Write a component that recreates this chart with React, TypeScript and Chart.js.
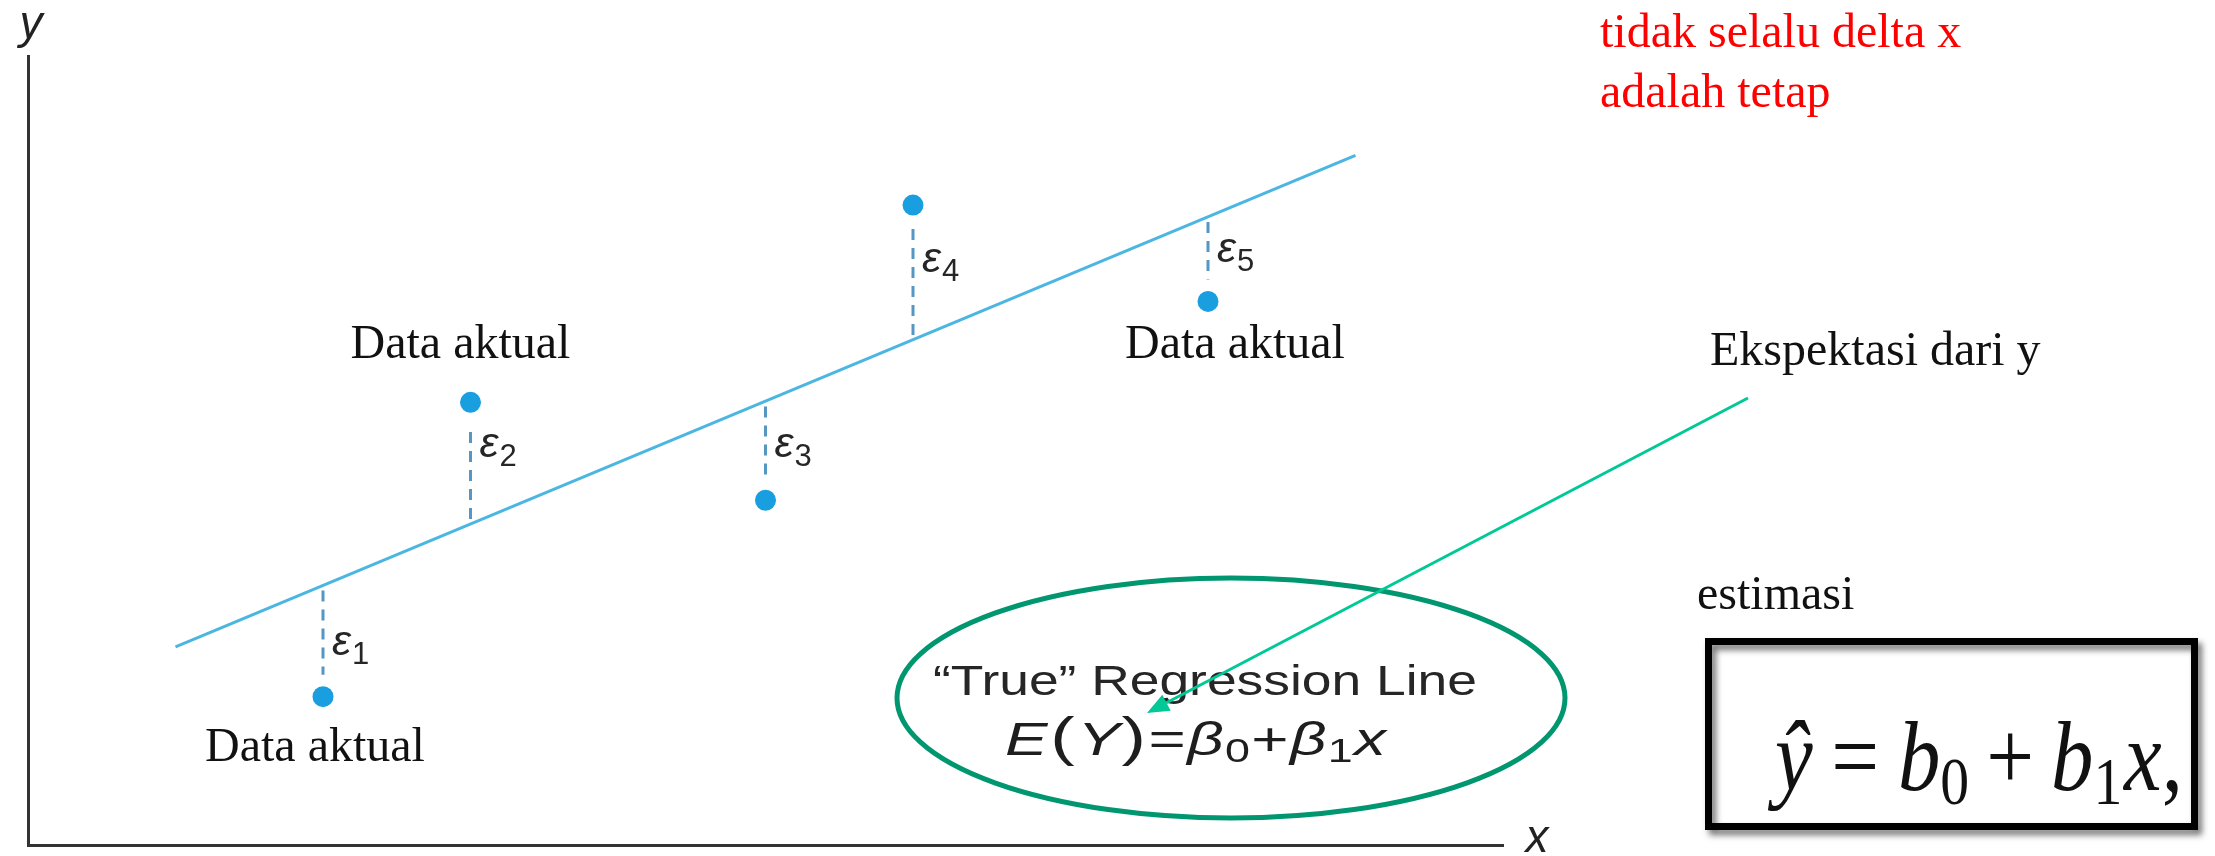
import { useEffect, useRef } from "react";
import { Chart, registerables } from "chart.js";

Chart.register(...registerables);

// Observations (x, actual y) and the expected value E(Y) on the true line at each x
const xValues = [20, 30, 50, 60, 80];
const actualY = [18.8, 56.1, 43.7, 81.1, 68.9];
const fittedY = [32.9, 40.7, 56.2, 64.0, 79.6];
const residualNames = ["1", "2", "3", "4", "5"];

// End points of the "true" regression line
const lineX = [10, 90];
const lineY = [25.1, 87.4];

// Text content
const noteLines = ["tidak selalu delta x", "adalah tetap"];
const actualLabel = "Data aktual";
const expectationLabel = "Ekspektasi dari y";
const estimateLabel = "estimasi";
const trueLineTitle = "\u201CTrue\u201D Regression Line";

// Which observations carry a "Data aktual" caption, and where relative to the point
const actualCaptions = [
  { index: 0, dx: -8, dy: 64 },
  { index: 1, dx: -10, dy: -44 },
  { index: 4, dx: 27, dy: 57 },
];
// Vertical shift of each epsilon label from the middle of its residual
const epsShift = [4.5, -15, -3, -9.5, -6];

const SERIF = "'Liberation Serif', 'Times New Roman', serif";
const SANS = "'Liberation Sans', Arial, Helvetica, sans-serif";

type Piece = { t: string; f: string; dy?: number; gap?: number };

// Lays out a run of glyph pieces and stretches it horizontally to span [left, right]
function drawRun(
  ctx: CanvasRenderingContext2D,
  pieces: Piece[],
  left: number,
  right: number,
  baseline: number,
  color: string
) {
  let total = 0;
  pieces.forEach((p, i) => {
    ctx.font = p.f;
    total += ctx.measureText(p.t).width + (i < pieces.length - 1 ? p.gap || 0 : 0);
  });
  const sx = (right - left) / total;
  ctx.save();
  ctx.translate(left, baseline);
  ctx.scale(sx, 1);
  ctx.fillStyle = color;
  ctx.textAlign = "left";
  ctx.textBaseline = "alphabetic";
  let x = 0;
  pieces.forEach((p) => {
    ctx.font = p.f;
    ctx.fillText(p.t, x, p.dy || 0);
    x += ctx.measureText(p.t).width + (p.gap || 0);
  });
  ctx.restore();
}

const residualPlugin = {
  id: "residuals",
  afterDatasetsDraw(chart: any) {
    const { ctx } = chart;
    const xs = chart.scales.x;
    const ys = chart.scales.y;
    ctx.save();
    ctx.strokeStyle = "#5597c2";
    ctx.lineWidth = 3;
    ctx.setLineDash([11, 8]);
    xValues.forEach((xv, i) => {
      const px = xs.getPixelForValue(xv);
      const pLine = ys.getPixelForValue(fittedY[i]);
      const pObs = ys.getPixelForValue(actualY[i]);
      const dir = pObs > pLine ? 1 : -1;
      ctx.beginPath();
      ctx.moveTo(px, pLine + dir * 5);
      ctx.lineTo(px, pObs - dir * 22);
      ctx.stroke();
    });
    ctx.restore();
  },
};

const annotationPlugin = {
  id: "annotations",
  afterDraw(chart: any) {
    const { ctx } = chart;
    const xs = chart.scales.x;
    const ys = chart.scales.y;

    // axis names
    ctx.save();
    ctx.fillStyle = "#222";
    ctx.textAlign = "center";
    ctx.font = `italic 46px ${SANS}`;
    ctx.fillText("y", 31, 38);
    ctx.fillText("x", 1537, 852);
    ctx.restore();

    // epsilon labels beside each residual
    xValues.forEach((xv, i) => {
      const px = xs.getPixelForValue(xv);
      const mid = (ys.getPixelForValue(fittedY[i]) + ys.getPixelForValue(actualY[i])) / 2;
      const base = mid + epsShift[i] + 9;
      ctx.save();
      ctx.fillStyle = "#262626";
      ctx.textAlign = "left";
      ctx.font = `italic 43px ${SANS}`;
      ctx.fillText("\u03B5", px + 9, base);
      const w = ctx.measureText("\u03B5").width;
      ctx.font = `31px ${SANS}`;
      ctx.fillText(residualNames[i], px + 9 + w + 1, base + 9);
      ctx.restore();
    });

    // serif captions and notes
    ctx.save();
    ctx.fillStyle = "#111";
    ctx.textAlign = "center";
    ctx.font = `48px ${SERIF}`;
    actualCaptions.forEach((c) => {
      const px = xs.getPixelForValue(xValues[c.index]);
      const py = ys.getPixelForValue(actualY[c.index]);
      ctx.fillText(actualLabel, px + c.dx, py + c.dy);
    });
    ctx.textAlign = "left";
    ctx.fillText(expectationLabel, 1710, 365);
    ctx.fillText(estimateLabel, 1697, 609);
    ctx.fillStyle = "#ff0000";
    noteLines.forEach((t, i) => ctx.fillText(t, 1600, 47 + i * 60));
    ctx.restore();

    // ellipse around the model equation
    ctx.save();
    ctx.strokeStyle = "#009670";
    ctx.lineWidth = 5;
    ctx.beginPath();
    ctx.ellipse(1231, 698, 334, 120, 0, 0, Math.PI * 2);
    ctx.stroke();
    ctx.restore();

    drawRun(ctx, [{ t: trueLineTitle, f: `42px ${SANS}` }], 933, 1477, 695, "#262626");
    drawRun(
      ctx,
      [
        { t: "E", f: `italic 47px ${SANS}`, gap: 2 },
        { t: "(", f: `54px ${SANS}`, gap: 2 },
        { t: "Y", f: `italic 47px ${SANS}`, gap: 1 },
        { t: ")", f: `54px ${SANS}`, gap: 2 },
        { t: "=", f: `47px ${SANS}`, gap: 1 },
        { t: "\u03B2", f: `italic 47px ${SANS}`, gap: 1 },
        { t: "0", f: `33px ${SANS}`, dy: 7, gap: 1 },
        { t: "+", f: `47px ${SANS}`, gap: 1 },
        { t: "\u03B2", f: `italic 47px ${SANS}`, gap: 1 },
        { t: "1", f: `33px ${SANS}`, dy: 7, gap: 1 },
        { t: "x", f: `italic 47px ${SANS}` },
      ],
      1005,
      1386,
      755,
      "#1e1e1e"
    );

    // arrow from "Ekspektasi dari y" to the model equation
    const x0 = 1748, y0 = 398, x1 = 1147, y1 = 713;
    const ang = Math.atan2(y1 - y0, x1 - x0);
    const headLen = 22, headHalf = 9;
    const bx = x1 - headLen * Math.cos(ang);
    const by = y1 - headLen * Math.sin(ang);
    ctx.save();
    ctx.strokeStyle = "#00c896";
    ctx.fillStyle = "#00c896";
    ctx.lineWidth = 3;
    ctx.beginPath();
    ctx.moveTo(x0, y0);
    ctx.lineTo(bx, by);
    ctx.stroke();
    ctx.beginPath();
    ctx.moveTo(x1, y1);
    ctx.lineTo(bx + headHalf * Math.sin(ang), by - headHalf * Math.cos(ang));
    ctx.lineTo(bx - headHalf * Math.sin(ang), by + headHalf * Math.cos(ang));
    ctx.closePath();
    ctx.fill();
    ctx.restore();

    // boxed estimate equation
    ctx.save();
    ctx.shadowColor = "rgba(0,0,0,0.55)";
    ctx.shadowBlur = 6;
    ctx.shadowOffsetX = 4;
    ctx.shadowOffsetY = 5;
    ctx.strokeStyle = "#000";
    ctx.lineWidth = 7;
    ctx.strokeRect(1708.5, 641.5, 486, 185);
    ctx.restore();
    drawRun(
      ctx,
      [
        { t: "\u0177", f: `italic 100px ${SERIF}`, gap: 22 },
        { t: "=", f: `100px ${SERIF}`, gap: 22 },
        { t: "b", f: `italic 100px ${SERIF}` },
        { t: "0", f: `68px ${SERIF}`, dy: 14, gap: 20 },
        { t: "+", f: `100px ${SERIF}`, gap: 20 },
        { t: "b", f: `italic 100px ${SERIF}` },
        { t: "1", f: `68px ${SERIF}`, dy: 14, gap: 2 },
        { t: "x", f: `italic 100px ${SERIF}` },
        { t: ",", f: `100px ${SERIF}` },
      ],
      1775,
      2183,
      790,
      "#111"
    );
  },
};

export default function App() {
  const canvasRef = useRef<HTMLCanvasElement | null>(null);

  useEffect(() => {
    document.body.style.margin = "0";
    document.body.style.overflow = "hidden";
    const canvas = canvasRef.current;
    if (!canvas) return;
    const chart = new Chart(canvas, {
      type: "scatter",
      data: {
        datasets: [
          {
            type: "line",
            label: "E(Y)",
            data: lineX.map((x, i) => ({ x, y: lineY[i] })),
            borderColor: "#4cb6e2",
            borderWidth: 3,
            pointRadius: 0,
            fill: false,
          },
          {
            type: "scatter",
            label: "Data aktual",
            data: xValues.map((x, i) => ({ x, y: actualY[i] })),
            backgroundColor: "#199fe0",
            borderWidth: 0,
            pointRadius: 10.5,
          },
        ],
      },
      options: {
        animation: false,
        responsive: false,
        devicePixelRatio: 1,
        layout: { padding: { left: 28, top: 56, right: 712, bottom: 11 } },
        plugins: { legend: { display: false }, tooltip: { enabled: false } },
        scales: {
          x: {
            type: "linear",
            min: 0,
            max: 100,
            grid: { display: false, drawTicks: false },
            ticks: { display: false },
            border: { display: true, color: "#333", width: 3 },
          },
          y: {
            type: "linear",
            min: 0,
            max: 100,
            grid: { display: false, drawTicks: false },
            ticks: { display: false },
            border: { display: true, color: "#333", width: 3 },
          },
        },
      },
      plugins: [residualPlugin, annotationPlugin],
    } as any);
    return () => chart.destroy();
  }, []);

  return (
    <div style={{ position: "fixed", left: 0, top: 0, width: 2215, height: 856, background: "#fff" }}>
      <canvas ref={canvasRef} width={2215} height={856} style={{ display: "block" }} />
    </div>
  );
}
